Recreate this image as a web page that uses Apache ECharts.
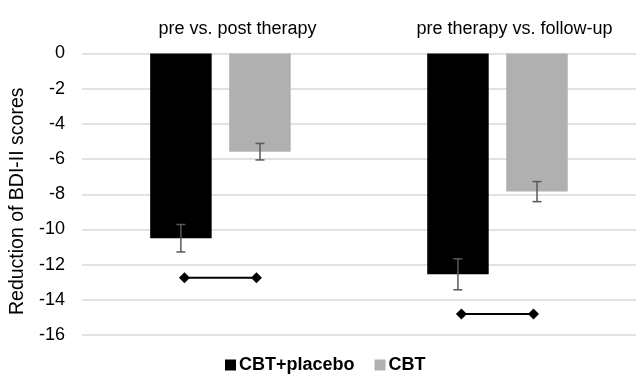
<!DOCTYPE html>
<html><head><meta charset="utf-8">
<script src="https://cdn.jsdelivr.net/npm/echarts@6/dist/echarts.min.js"></script>
<style>html,body{margin:0;padding:0;background:#fff}#c{width:636px;height:380px}</style>
</head><body><div id="c"></div>
<script>
var categories = ['pre vs. post therapy', 'pre therapy vs. follow-up'];
var seriesNames = ['CBT+placebo', 'CBT'];
var cbtPlacebo = [-10.5, -12.55];
var cbtOnly = [-5.58, -7.85];
var cbtPlaceboErr = [0.78, 0.88];
var cbtOnlyErr = [0.47, 0.57];
var sigLine1 = [[0.37, -12.75], [0.63, -12.75]];
var sigLine2 = [[1.37, -14.8], [1.63, -14.8]];
var yTicks = {min: -16, max: 0, interval: 2};

var FONT = 'Liberation Sans, Arial, sans-serif';
var chart = echarts.init(document.getElementById('c'));
var BAR_OFF = 0.1427;

function errSeries(vals, errs, dir) {
  return {
    type: 'custom', xAxisIndex: 0, yAxisIndex: 0, silent: true, z: 5,
    data: vals.map(function (v, i) { return [i, v, errs[i]]; }),
    renderItem: function (params, api) {
      var i = api.value(0), v = api.value(1), e = api.value(2);
      var cw = api.size([1, 0])[0];
      var c = api.coord([i, v]);
      var x = c[0] + dir * BAR_OFF * cw;
      var yt = api.coord([i, v + e])[1];
      var yb = api.coord([i, v - e])[1];
      var h = 4.5;
      var st = {stroke: '#595959', lineWidth: 1.5};
      return {type: 'group', children: [
        {type: 'line', shape: {x1: x, y1: yt, x2: x, y2: yb}, style: st},
        {type: 'line', shape: {x1: x - h, y1: yt, x2: x + h, y2: yt}, style: st},
        {type: 'line', shape: {x1: x - h, y1: yb, x2: x + h, y2: yb}, style: st}
      ]};
    }
  };
}

function sigSeries(d) {
  return {
    type: 'line', xAxisIndex: 1, yAxisIndex: 0, data: d, symbol: 'diamond', symbolSize: 11,
    lineStyle: {color: '#000', width: 2}, itemStyle: {color: '#000'}, silent: true, z: 6
  };
}

chart.setOption({
  animation: false,
  textStyle: {fontFamily: FONT},
  grid: {left: 80, top: 53.5, bottom: 45, width: 559, containLabel: false},
  legend: {
    data: seriesNames, bottom: 1, left: 220, icon: 'rect', itemWidth: 11, itemHeight: 11, itemGap: 20,
    textStyle: {fontFamily: FONT, fontSize: 18, fontWeight: 'bold', color: '#000', padding: [0, 0, 0, -2]}
  },
  xAxis: [
    {type: 'category', data: categories, position: 'top',
     axisLine: {show: false}, axisTick: {show: false}, splitLine: {show: false},
     axisLabel: {fontFamily: FONT, fontSize: 18, color: '#000', margin: 15, padding: [0, 0, 0, 34]}},
    {type: 'value', min: 0, max: 2, show: false}
  ],
  yAxis: {
    type: 'value', min: yTicks.min, max: yTicks.max, interval: yTicks.interval,
    name: 'Reduction of BDI-II scores', nameLocation: 'middle', nameGap: 44,
    nameTextStyle: {fontFamily: FONT, fontSize: 19.5, color: '#000', padding: [0, 14, 0, 0]},
    axisLine: {show: false}, axisTick: {show: false},
    axisLabel: {fontFamily: FONT, fontSize: 18, color: '#000', margin: 17},
    splitLine: {lineStyle: {color: '#d9d9d9', width: 1.5}}
  },
  series: [
    {name: seriesNames[0], type: 'bar', data: cbtPlacebo, barWidth: '22.2%', barGap: '28.5%',
     itemStyle: {color: '#000'}},
    {name: seriesNames[1], type: 'bar', data: cbtOnly, barWidth: '22.2%', barGap: '28.5%',
     itemStyle: {color: '#b0b0b0'}},
    errSeries(cbtPlacebo, cbtPlaceboErr, -1),
    errSeries(cbtOnly, cbtOnlyErr, 1),
    sigSeries(sigLine1),
    sigSeries(sigLine2)
  ]
});
</script></body></html>
